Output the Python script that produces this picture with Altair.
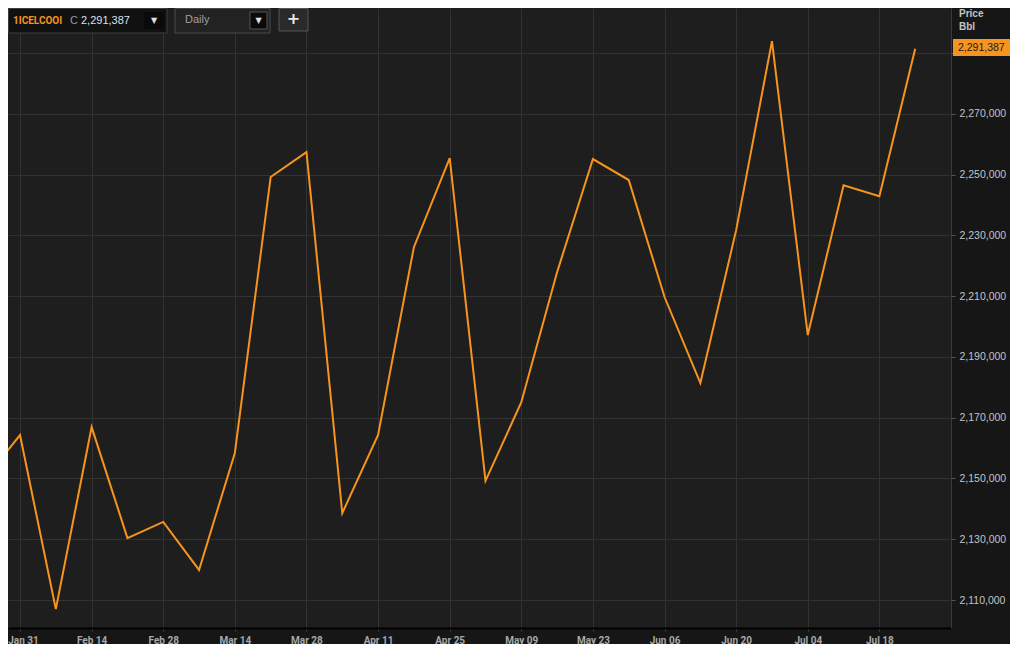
import altair as alt
import pandas as pd

# ---- data ----
dates = ["2022-01-24", "2022-01-31", "2022-02-07", "2022-02-14", "2022-02-21", "2022-02-28",
         "2022-03-07", "2022-03-14", "2022-03-21", "2022-03-28", "2022-04-04", "2022-04-11",
         "2022-04-18", "2022-04-25", "2022-05-02", "2022-05-09", "2022-05-16", "2022-05-23",
         "2022-05-30", "2022-06-06", "2022-06-13", "2022-06-20", "2022-06-27", "2022-07-04",
         "2022-07-11", "2022-07-18", "2022-07-25"]
prices = [2149500, 2164300, 2107000, 2166900, 2130400, 2135700,
          2119900, 2158400, 2249200, 2257400, 2138600, 2164300,
          2226100, 2255400, 2149200, 2175100, 2217900, 2255100,
          2248200, 2209700, 2181400, 2231700, 2293900, 2197200,
          2246500, 2242900, 2291387]
x_tick_dates = ["2022-01-31", "2022-02-14", "2022-02-28", "2022-03-14", "2022-03-28",
                "2022-04-11", "2022-04-25", "2022-05-09", "2022-05-23", "2022-06-06",
                "2022-06-20", "2022-07-04", "2022-07-18"]
y_ticks = [2110000, 2130000, 2150000, 2170000, 2190000, 2210000, 2230000, 2250000,
           2270000, 2290000]
last_label = "2,291,387"
ric = "1ICELCOOI"
interval = "Daily"

def ms(s):
    return int(pd.Timestamp(s, tz="UTC").value // 10**6)

df = pd.DataFrame({"date": dates, "price": prices})
x_domain = [ms("2022-01-28T15:36:00"), ms("2022-08-01T00:00:00")]
y_domain = [2100800, 2304800]
W, H = 943, 620
ORANGE = "#f7941d"

line = alt.Chart(df).mark_line(color=ORANGE, strokeWidth=2, clip=True).encode(
    x=alt.X("date:T", scale=alt.Scale(type="utc", domain=x_domain),
            axis=alt.Axis(values=[ms(d) for d in x_tick_dates], format="%b %d",
                          title=None, grid=True, gridColor="#323232", gridWidth=1,
                          domainColor="#000000", domainWidth=2, tickColor="#444444",
                          tickSize=3, labelPadding=4, labelColor="#a8a8a8",
                          labelFont="Roboto", labelFontWeight="bold",
                          labelFontSize=10, labelAlign="center", labelBaseline="top",
                          labelOffset={"expr": "datum.index === 0 ? 3 : 0"})),
    y=alt.Y("price:Q", scale=alt.Scale(domain=y_domain, nice=False, zero=False),
            axis=alt.Axis(orient="right", values=y_ticks, format=",d", title=None,
                          labelExpr="datum.value >= 2290000 ? '' : datum.label",
                          grid=True, gridColor="#323232", gridWidth=1,
                          domainColor="#3a3a3a", domainWidth=1, tickColor="#555555",
                          tickSize=4, labelPadding=4, labelColor="#c4c4c4",
                          labelFont="Liberation Sans", labelFontSize=10.5,
                          labelBaseline="middle")),
)

one = pd.DataFrame({"k": [0]})

def box(x1, x2, y1, y2, fill, stroke=None, sw=1):
    kw = dict(fill=fill, clip=False)
    if stroke:
        kw.update(stroke=stroke, strokeWidth=sw)
    return alt.Chart(one).mark_rect(**kw).encode(
        x=alt.value(x1), x2=alt.value(x2), y=alt.value(y1), y2=alt.value(y2))

def txt(s, x, y, color, size=11, weight="normal", align="left", font="Liberation Sans"):
    return alt.Chart(one).mark_text(text=s, color=color, fontSize=size, fontWeight=weight,
                                    align=align, baseline="middle", font=font,
                                    clip=False).encode(x=alt.value(x), y=alt.value(y))

layers = [
    line,
    # controls
    box(0.5, 159, 0.5, 25, "#111111", "#3e3e3e"),
    txt(ric, 5, 12.5, ORANGE, 10, "bold", font="Roboto"),
    txt("C", 62, 12.5, "#9a9a9a", 11),
    txt(last_label, 73, 12.5, "#d8e0ec", 11),
    box(136, 156, 4, 21, "#0a0a0a"),
    txt("▼", 146, 12.5, "#e0e0e0", 8, align="center", font="DejaVu Sans"),
    box(167, 262, 0.5, 25, "#222222", "#4a4a4a"),
    txt(interval, 177, 12, "#a0a0a0", 11),
    box(242, 259, 4, 21, "#0a0a0a", "#555555"),
    txt("▼", 250.5, 12.5, "#e0e0e0", 8, align="center", font="DejaVu Sans"),
    box(271, 300, 0.5, 23, "#2a2a2a", "#555555"),
    txt("+", 285.5, 11, "#e8e8e8", 16, "bold", align="center", font="DejaVu Sans"),
    # right axis header + last value tag
    txt("Price", 951, 6, "#c4c4c4", 10, "bold"),
    txt("Bbl", 951, 19, "#c4c4c4", 10, "bold"),
    box(945, 1002, 31, 48, ORANGE),
    txt(last_label, 950, 39.5, "#1a1a1a", 10.5),
]

chart = alt.layer(*layers).properties(
    width=W, height=H,
    autosize=alt.AutoSizeParams(type="none"),
    padding={"left": 0, "top": 0, "right": 59, "bottom": 16},
    background="#161616",
).configure_view(fill="#1e1e1e", stroke=None)

chart.save("out.html", embed_options={"renderer": "svg", "actions": False})
